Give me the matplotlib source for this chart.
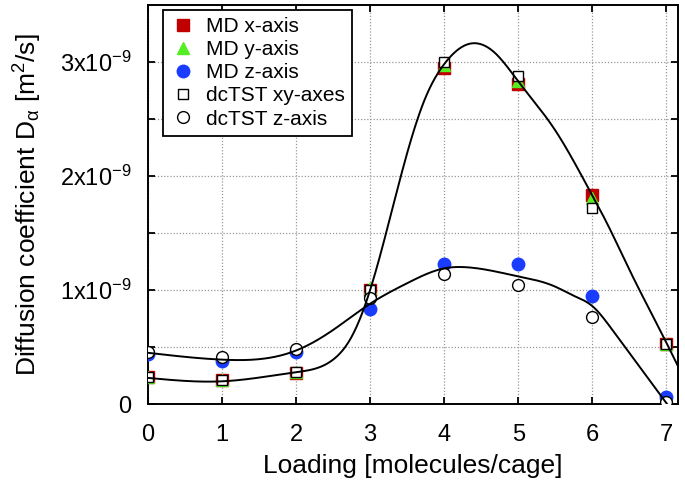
import numpy as np
import matplotlib
matplotlib.use("Agg")
import matplotlib.pyplot as plt
from matplotlib.ticker import FuncFormatter, FixedLocator

plt.rcParams['font.family'] = ['Liberation Sans', 'DejaVu Sans']
plt.rcParams['mathtext.fontset'] = 'custom'
plt.rcParams['mathtext.rm'] = 'Liberation Sans'
plt.rcParams['mathtext.it'] = 'Liberation Sans:italic'
plt.rcParams['mathtext.bf'] = 'Liberation Sans:bold'

# Loading [molecules/cage]
loading = [0, 1, 2, 3, 4, 5, 6, 7]

# Diffusion coefficients in units of 1e-9 m^2/s
md_x = [0.24, 0.21, 0.27, 1.00, 2.95, 2.81, 1.83, 0.53]
md_y = [0.24, 0.21, 0.28, 1.02, 2.97, 2.83, 1.81, 0.53]
md_z = [0.44, 0.38, 0.46, 0.83, 1.23, 1.23, 0.95, 0.06]
dctst_xy = [0.24, 0.21, 0.28, 1.00, 3.00, 2.88, 1.72, 0.53]
dctst_z = [0.46, 0.41, 0.48, 0.93, 1.14, 1.04, 0.76, 0.02]

# smooth guide curves
curve_x = [0, 1, 2, 2.5, 2.75, 3, 3.5, 3.75, 4, 4.35, 4.7, 5, 5.5, 6, 6.18, 6.5, 7, 7.16]
curve_xy = [0.23, 0.20, 0.28, 0.39, 0.59, 1.00, 2.20, 2.69, 2.98, 3.16, 3.07, 2.83, 2.40,
            1.83, 1.61, 1.18, 0.54, 0.33]
curve2_x = [0, 1, 2, 2.5, 3, 3.5, 4, 4.3, 5, 5.5, 5.75, 6, 6.25, 6.5, 7, 7.16]
curve_z = [0.45, 0.39, 0.47, 0.65, 0.88, 1.06, 1.19, 1.20, 1.12, 1.03, 0.95, 0.86, 0.67,
           0.45, 0.01, -0.13]

y_ticks = [0, 0.5, 1, 1.5, 2, 2.5, 3]


def spline(xk, yk, xs):
    # natural cubic spline
    xk = np.asarray(xk, float)
    yk = np.asarray(yk, float)
    n = len(xk)
    h = np.diff(xk)
    A = np.zeros((n, n))
    b = np.zeros(n)
    A[0, 0] = A[-1, -1] = 1
    for i in range(1, n - 1):
        A[i, i - 1] = h[i - 1]
        A[i, i] = 2 * (h[i - 1] + h[i])
        A[i, i + 1] = h[i]
        b[i] = 3 * ((yk[i + 1] - yk[i]) / h[i] - (yk[i] - yk[i - 1]) / h[i - 1])
    c = np.linalg.solve(A, b)
    idx = np.clip(np.searchsorted(xk, xs) - 1, 0, n - 2)
    dx = xs - xk[idx]
    bb = (yk[idx + 1] - yk[idx]) / h[idx] - h[idx] * (2 * c[idx] + c[idx + 1]) / 3
    d = (c[idx + 1] - c[idx]) / (3 * h[idx])
    return yk[idx] + bb * dx + c[idx] * dx ** 2 + d * dx ** 3


scale = 1e-9
fig = plt.figure(figsize=(6.85, 4.84), dpi=100)
ax = fig.add_axes([0.216, 0.165, 0.774, 0.825])

ax.plot(loading, np.array(md_x) * scale, 's', color='#c00000', ms=8.5, label='MD x-axis', zorder=3)
ax.plot(loading, np.array(md_y) * scale, '^', color='#55ee22', ms=8.5, label='MD y-axis', zorder=3)
ax.plot(loading, np.array(md_z) * scale, 'o', color='#1a3cff', ms=9, label='MD z-axis', zorder=3)
ax.plot(loading, np.array(dctst_xy) * scale, 's', mfc='white', mec='black', mew=1.0, ms=7,
        label='dcTST xy-axes', zorder=4)
ax.plot(loading, np.array(dctst_z) * scale, 'o', mfc='white', mec='black', mew=1.0, ms=8.5,
        label='dcTST z-axis', zorder=4)

xs = np.linspace(0, 7.16, 400)
ax.plot(xs, spline(curve_x, curve_xy, xs) * scale, color='black', lw=1.4, zorder=5)
ax.plot(xs, spline(curve2_x, curve_z, xs) * scale, color='black', lw=1.4, zorder=5)

ax.set_xlim(0, 7.16)
ax.set_ylim(0, 3.5e-9)
ax.set_xticks(loading)
ax.yaxis.set_major_locator(FixedLocator([t * scale for t in y_ticks]))


def yfmt(v, pos):
    k = round(v / 1e-9, 3)
    if abs(k) < 1e-6:
        return '0'
    if abs(k - round(k)) > 1e-6:
        return ''
    return r'%dx10$^{-9}$' % round(k)


ax.yaxis.set_major_formatter(FuncFormatter(yfmt))
ax.tick_params(direction='in', top=True, right=True, labelsize=17, length=5, width=1.3)
ax.tick_params(axis='x', pad=14)
ax.tick_params(axis='y', pad=12)
ax.grid(True, color='#999999', linestyle=(0, (1, 1.5)), linewidth=0.9)
for s in ax.spines.values():
    s.set_linewidth(1.4)

ax.set_xlabel('Loading [molecules/cage]', fontsize=19, labelpad=6)
ax.set_ylabel(r'Diffusion coefficient D$_{\mathrm{\alpha}}$ [m$^2$/s]', fontsize=19, labelpad=11)

leg = ax.legend(loc='upper left', fontsize=15, frameon=True, fancybox=False, edgecolor='black',
                framealpha=1, handlelength=1.2, handletextpad=0.5, borderpad=0.35,
                labelspacing=0.2, borderaxespad=0, bbox_to_anchor=(0.028, 0.988))
leg.get_frame().set_linewidth(1.3)

fig.savefig('out.png', dpi=100)
